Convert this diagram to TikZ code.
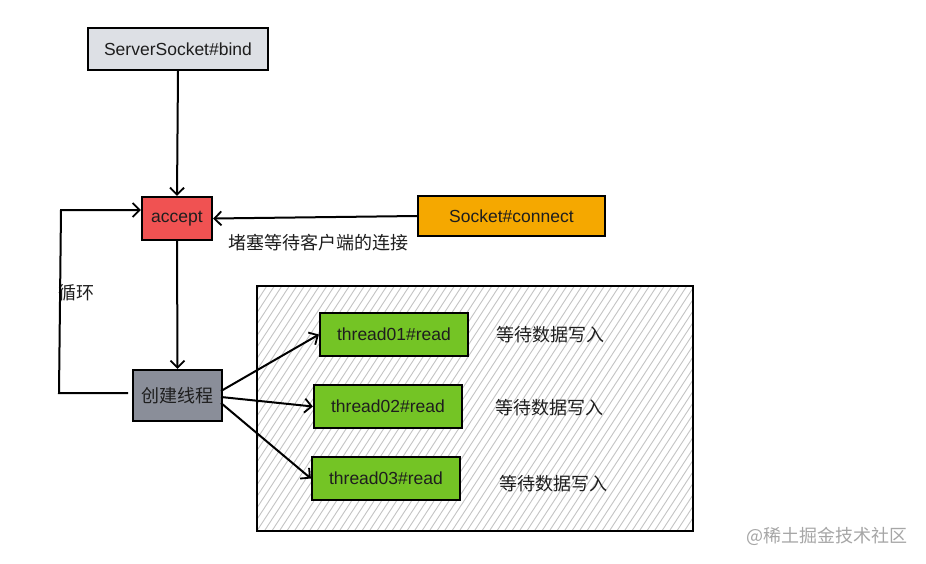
\documentclass[tikz,border=0pt]{standalone}
\usepackage{fontspec}
\setmainfont{Liberation Sans}
\newfontfamily\cjk{Noto Sans CJK SC}
\usetikzlibrary{arrows.meta}
\definecolor{bindgray}{HTML}{DDE0E5}
\definecolor{accred}{HTML}{F05252}
\definecolor{conorange}{HTML}{F5A800}
\definecolor{thgray}{HTML}{8A8E99}
\definecolor{thgreen}{HTML}{74C425}
\definecolor{hatch}{HTML}{C4C4C4}
\definecolor{ink}{HTML}{1E1E1E}
\begin{document}
\begin{tikzpicture}[x=1pt,y=-1pt,
  box/.style={draw=black,line width=2.2pt,inner sep=0pt,text=ink,font=\fontsize{17.5}{20}\selectfont},
  conn/.style={line width=2pt,-{Straight Barb[length=7pt,width=14pt,line width=1.8pt]}},
  lbl/.style={font=\cjk\fontsize{18}{21}\selectfont,text=ink,inner sep=0pt}]
\useasboundingbox (0,0) rectangle (926,563);
\fill[white] (0,0) rectangle (926,563);
% hatched frame
\begin{scope}
\clip (256,285) rectangle (692,530);
\foreach \i in {-170,-162.5,...,700} {
  \draw[hatch,line width=0.9pt] (\i,530) -- ({\i+160},285);
}
\end{scope}
\node[draw=black,line width=2.2pt,minimum width=436pt,minimum height=245pt,anchor=north west,inner sep=0pt] (frame) at (256,285) {};
% nodes
\node[box,fill=bindgray,minimum width=180pt,minimum height=42pt] (bind) at (178,49) {ServerSocket\#bind};
\node[box,fill=accred,minimum width=70pt,minimum height=43pt] (accept) at (177,218.5) {accept};
\node[box,fill=conorange,minimum width=187pt,minimum height=40pt] (connect) at (511.5,216) {Socket\#connect};
\node[box,fill=thgray,minimum width=89pt,minimum height=51pt,font=\cjk\fontsize{18}{21}\selectfont] (create) at (177.5,395.5) {创建线程};
\node[box,fill=thgreen,minimum width=148pt,minimum height=43pt] (t1) at (394,334.5) {thread01\#read};
\node[box,fill=thgreen,minimum width=148pt,minimum height=43pt] (t2) at (388,406.5) {thread02\#read};
\node[box,fill=thgreen,minimum width=148pt,minimum height=43pt] (t3) at (386,478.5) {thread03\#read};
% labels
\node[lbl] (block) at (318,243) {堵塞等待客户端的连接};
\node[lbl] (loop) at (76,293) {循环};
\node[lbl] (w1) at (550,335) {等待数据写入};
\node[lbl] (w2) at (549,408) {等待数据写入};
\node[lbl] (w3) at (553,484) {等待数据写入};
\node[lbl,text=gray!70,anchor=east] (wm) at (908,536) {@稀土掘金技术社区};
% connectors
\draw[conn] (bind.south) -- (accept.north);
\draw[conn] (connect.west) -- (accept.east);
\draw[conn] (accept.south) -- (create.north);
\coordinate (lb) at (59,393);
\coordinate (lt) at (61,210);
\coordinate (le) at (128,393);
\draw[conn] (le) -- (lb) -- (lt) -- (accept.west |- lt);
\coordinate (c1) at (221,391);
\coordinate (c2) at (221,397);
\coordinate (c3) at (221,403);
\draw[conn] (c1) -- (t1.west);
\draw[conn] (c2) -- (t2.west);
\draw[conn] (c3) -- (t3.west);
\end{tikzpicture}
\end{document}
